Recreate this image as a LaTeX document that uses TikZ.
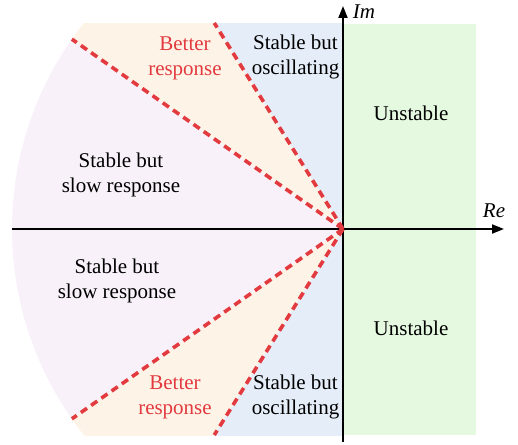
\documentclass[tikz,border=0pt]{standalone}
\usepackage{fontspec}
\setmainfont{Liberation Serif}
\usepackage{xcolor}
\usetikzlibrary{arrows.meta}

\definecolor{slowfill}{RGB}{248,241,249}
\definecolor{betterfill}{RGB}{254,243,231}
\definecolor{oscfill}{RGB}{229,237,248}
\definecolor{unstfill}{RGB}{228,249,224}
\definecolor{bound}{RGB}{226,58,62}

\begin{document}
\begin{tikzpicture}[x=1pt,y=1pt,
      every node/.style={font=\rmfamily\fontsize{21}{25}\selectfont, align=center, inner sep=0pt},
      axis/.style={line width=1.8pt, -{Triangle[length=12pt,width=9pt]}},
      limit/.style={bound, line width=3.6pt, dash pattern=on 7.5pt off 5pt}]
      \useasboundingbox (-343,-215) rectangle (175,229);
      \coordinate (O) at (0,0);
      % regions of the s-plane
      \begin{scope}
        \clip (-343,-206) rectangle (133,205);
        \fill[slowfill] (O) -- (145:331) arc (145:215:331) -- cycle;
        \fill[betterfill] (O) -- (122:331) arc (122:145:331) -- cycle;
        \fill[betterfill] (O) -- (215:331) arc (215:238:331) -- cycle;
        \fill[oscfill] (O) -- (122:400) -- (0,400) -- cycle;
        \fill[oscfill] (O) -- (238:400) -- (0,-400) -- cycle;
        \fill[unstfill] (0,-206) rectangle (133,205);
      \end{scope}
      % axes
      \draw[axis] (0,-213) -- (0,223);
      \draw[axis] (-331,0) -- (161,0);
      \node (im) at (21,217) {\textit{Im}};
      \node (re) at (151,18) {\textit{Re}};
      % damping boundaries
      \coordinate (a1) at (145:331);
      \coordinate (a2) at (215:331);
      \coordinate (b1) at (-128.7,206);
      \coordinate (b2) at (-128.7,-206);
      \foreach \e in {a1,a2,b1,b2}
        \draw[limit] (O) -- (\e);
      % labels
      \node (u1) at (68,116) {Unstable};
      \node (u2) at (68,-99) {Unstable};
      \node (o1) at (-47.5,172) {Stable but\\oscillating};
      \node (o2) at (-47.5,-168) {Stable but\\oscillating};
      \node (s1) at (-222,54) {Stable but\\slow response};
      \node (s2) at (-226,-52) {Stable but\\slow response};
      \node[text=bound] (g1) at (-158,171) {Better\\response};
      \node[text=bound] (g2) at (-168,-168) {Better\\response};
\end{tikzpicture}
\end{document}
